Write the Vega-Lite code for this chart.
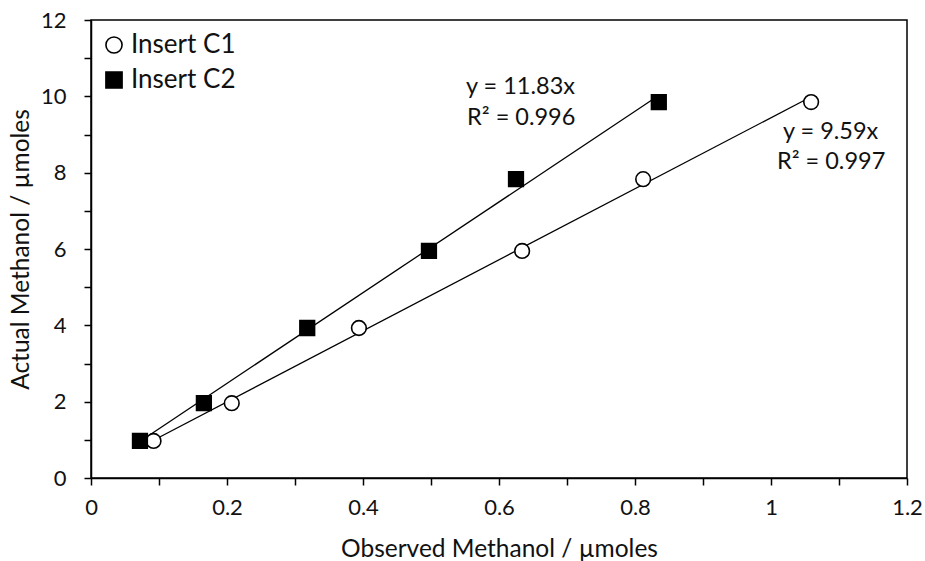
{
  "$schema": "https://vega.github.io/schema/vega-lite/v6.json",
  "autosize": {"type": "none"},
  "width": 816,
  "height": 458,
  "padding": {"left": 91, "top": 20, "right": 18, "bottom": 83},
  "background": "white",
  "config": {
    "font": "Lato",
    "view": {"stroke": "black", "strokeWidth": 1.5},
    "axis": {
      "grid": false,
      "domainColor": "black",
      "domainWidth": 1.5,
      "tickColor": "black",
      "tickWidth": 1.5,
      "tickSize": 7,
      "labelColor": "#111",
      "labelFont": "Lato",
      "labelFontSize": 22,
      "titleFont": "Lato",
      "titleFontSize": 24.5,
      "titleFontWeight": "normal",
      "titleColor": "#111"
    },
    "legend": {"labelFont": "Lato", "labelFontSize": 26, "labelColor": "#111"}
  },
  "datasets": {
    "pts": [
      {"series": "Insert C1", "observed": 0.092, "actual": 0.97},
      {"series": "Insert C1", "observed": 0.207, "actual": 1.96},
      {"series": "Insert C1", "observed": 0.394, "actual": 3.93},
      {"series": "Insert C1", "observed": 0.634, "actual": 5.95},
      {"series": "Insert C1", "observed": 0.812, "actual": 7.83},
      {"series": "Insert C1", "observed": 1.059, "actual": 9.85},
      {"series": "Insert C2", "observed": 0.072, "actual": 0.97},
      {"series": "Insert C2", "observed": 0.166, "actual": 1.96},
      {"series": "Insert C2", "observed": 0.318, "actual": 3.93},
      {"series": "Insert C2", "observed": 0.497, "actual": 5.95},
      {"series": "Insert C2", "observed": 0.625, "actual": 7.83},
      {"series": "Insert C2", "observed": 0.835, "actual": 9.85}
    ],
    "fits": [
      {"series": "Insert C1", "observed": 0.092, "actual": 0.99},
      {"series": "Insert C1", "observed": 1.057, "actual": 9.97},
      {"series": "Insert C2", "observed": 0.073, "actual": 0.97},
      {"series": "Insert C2", "observed": 0.832, "actual": 9.99}
    ],
    "notes": [
      {"observed": 0.5515, "actual": 10.24, "label": "y = 11.83x"},
      {"observed": 0.553, "actual": 9.43, "label": "R² = 0.996"},
      {"observed": 1.0176, "actual": 9.06, "label": "y = 9.59x"},
      {"observed": 1.0088, "actual": 8.28, "label": "R² = 0.997"}
    ]
  },
  "encoding": {
    "x": {
      "field": "observed", "type": "quantitative",
      "scale": {"domain": [0, 1.2], "nice": false, "zero": false},
      "axis": {
        "title": "Observed Methanol / µmoles",
        "values": [0, 0.1, 0.2, 0.3, 0.4, 0.5, 0.6, 0.7, 0.8, 0.9, 1, 1.1, 1.2],
        "labelExpr": "round(datum.value*10)%2==0 ? format(datum.value, '~g') : ''",
        "labelPadding": 12,
        "titlePadding": 19,
        "labelFlush": false
      }
    },
    "y": {
      "field": "actual", "type": "quantitative",
      "scale": {"domain": [0, 12], "nice": false},
      "axis": {
        "title": "Actual Methanol / µmoles",
        "values": [0, 1, 2, 3, 4, 5, 6, 7, 8, 9, 10, 11, 12],
        "labelExpr": "datum.value%2==0 ? datum.label : ''",
        "labelPadding": 18,
        "titlePadding": 7,
        "labelFlush": false
      }
    }
  },
  "layer": [
    {
      "data": {"name": "fits"},
      "mark": {"type": "line", "color": "black", "strokeWidth": 1.3},
      "encoding": {"detail": {"field": "series"}}
    },
    {
      "data": {"name": "pts"},
      "mark": {"type": "point", "filled": true, "size": 215, "strokeWidth": 1.6, "opacity": 1},
      "encoding": {
        "stroke": {
          "field": "series", "type": "nominal",
          "scale": {"domain": ["Insert C1", "Insert C2"], "range": ["black", "black"]},
          "legend": {"title": null, "orient": "none", "legendX": 10, "legendY": 12, "symbolSize": 260, "symbolStrokeWidth": 1.6, "labelOffset": 4, "rowPadding": 9, "padding": 0}
        },
        "shape": {
          "field": "series", "type": "nominal",
          "scale": {"domain": ["Insert C1", "Insert C2"], "range": ["circle", "square"]},
          "legend": {"title": null, "orient": "none", "legendX": 10, "legendY": 12, "symbolSize": 260, "symbolStrokeWidth": 1.6, "labelOffset": 4, "rowPadding": 9, "padding": 0}
        },
        "fill": {
          "field": "series", "type": "nominal",
          "scale": {"domain": ["Insert C1", "Insert C2"], "range": ["white", "black"]},
          "legend": {"title": null, "orient": "none", "legendX": 10, "legendY": 12, "symbolSize": 260, "symbolStrokeWidth": 1.6, "labelOffset": 4, "rowPadding": 9, "padding": 0}
        }
      }
    },
    {
      "data": {"name": "notes"},
      "mark": {"type": "text", "align": "left", "baseline": "middle", "fontSize": 23.5, "font": "Lato", "color": "#111"},
      "encoding": {"text": {"field": "label"}}
    }
  ]
}
